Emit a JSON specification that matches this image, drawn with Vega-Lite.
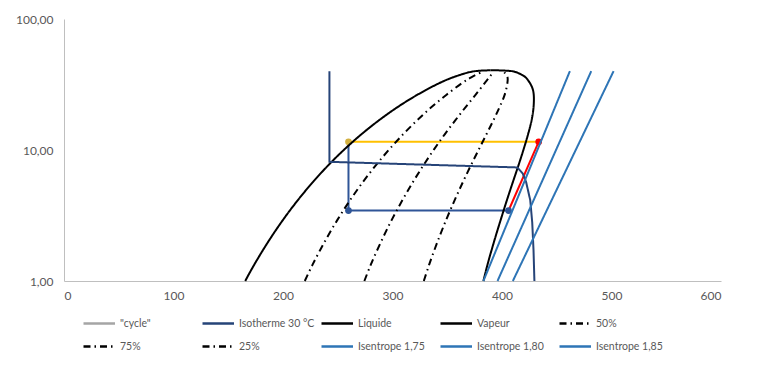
{
  "$schema": "https://vega.github.io/schema/vega-lite/v6.json",
  "width": 657,
  "height": 262,
  "autosize": "none",
  "padding": {"left": 64, "top": 19, "right": 37, "bottom": 96},
  "background": "white",
  "config": {
    "font": "Lato",
    "view": {"stroke": null},
    "axis": {"grid": false, "ticks": false, "domainColor": "#BFBFBF", "domainWidth": 1, "labelColor": "#595959", "labelFontSize": 12, "title": null}
  },
  "datasets": {
    "smooth": [
      {"s": "Liquide", "i": 1, "h": 165.5, "p": 1.0},
      {"s": "Liquide", "i": 2, "h": 173.6, "p": 1.327},
      {"s": "Liquide", "i": 3, "h": 186.7, "p": 2.006},
      {"s": "Liquide", "i": 4, "h": 200.0, "p": 2.928},
      {"s": "Liquide", "i": 5, "h": 213.6, "p": 4.146},
      {"s": "Liquide", "i": 6, "h": 227.5, "p": 5.717},
      {"s": "Liquide", "i": 7, "h": 241.7, "p": 7.702},
      {"s": "Liquide", "i": 8, "h": 256.4, "p": 10.166},
      {"s": "Liquide", "i": 9, "h": 271.6, "p": 13.18},
      {"s": "Liquide", "i": 10, "h": 287.5, "p": 16.82},
      {"s": "Liquide", "i": 11, "h": 304.3, "p": 21.17},
      {"s": "Liquide", "i": 12, "h": 322.5, "p": 26.33},
      {"s": "Liquide", "i": 13, "h": 342.9, "p": 32.44},
      {"s": "Liquide", "i": 14, "h": 355.4, "p": 35.9},
      {"s": "Liquide", "i": 15, "h": 373.1, "p": 39.72},
      {"s": "Liquide", "i": 16, "h": 389.6, "p": 40.59},
      {"s": "Vapeur", "i": 1, "h": 389.6, "p": 40.59},
      {"s": "Vapeur", "i": 2, "h": 411.0, "p": 39.72},
      {"s": "Vapeur", "i": 3, "h": 418.2, "p": 37.4},
      {"s": "Vapeur", "i": 4, "h": 421.5, "p": 35.9},
      {"s": "Vapeur", "i": 5, "h": 425.5, "p": 32.44},
      {"s": "Vapeur", "i": 6, "h": 428.0, "p": 29.28},
      {"s": "Vapeur", "i": 7, "h": 429.0, "p": 26.33},
      {"s": "Vapeur", "i": 8, "h": 428.8, "p": 21.17},
      {"s": "Vapeur", "i": 9, "h": 427.0, "p": 16.82},
      {"s": "Vapeur", "i": 10, "h": 423.8, "p": 13.18},
      {"s": "Vapeur", "i": 11, "h": 419.8, "p": 10.166},
      {"s": "Vapeur", "i": 12, "h": 415.2, "p": 7.702},
      {"s": "Vapeur", "i": 13, "h": 410.0, "p": 5.717},
      {"s": "Vapeur", "i": 14, "h": 404.5, "p": 4.146},
      {"s": "Vapeur", "i": 15, "h": 398.8, "p": 2.928},
      {"s": "Vapeur", "i": 16, "h": 392.8, "p": 2.006},
      {"s": "Vapeur", "i": 17, "h": 386.7, "p": 1.327},
      {"s": "Vapeur", "i": 18, "h": 383.0, "p": 1.0},
      {"s": "25%", "i": 1, "h": 219.9, "p": 1.0},
      {"s": "25%", "i": 2, "h": 226.9, "p": 1.327},
      {"s": "25%", "i": 3, "h": 238.2, "p": 2.006},
      {"s": "25%", "i": 4, "h": 249.7, "p": 2.928},
      {"s": "25%", "i": 5, "h": 261.3, "p": 4.146},
      {"s": "25%", "i": 6, "h": 273.1, "p": 5.717},
      {"s": "25%", "i": 7, "h": 285.1, "p": 7.702},
      {"s": "25%", "i": 8, "h": 297.3, "p": 10.166},
      {"s": "25%", "i": 9, "h": 309.7, "p": 13.18},
      {"s": "25%", "i": 10, "h": 322.4, "p": 16.82},
      {"s": "25%", "i": 11, "h": 335.4, "p": 21.17},
      {"s": "25%", "i": 12, "h": 349.1, "p": 26.33},
      {"s": "25%", "i": 13, "h": 363.6, "p": 32.44},
      {"s": "25%", "i": 14, "h": 371.9, "p": 35.9},
      {"s": "25%", "i": 15, "h": 382.6, "p": 39.72},
      {"s": "50%", "i": 1, "h": 274.3, "p": 1.0},
      {"s": "50%", "i": 2, "h": 280.1, "p": 1.327},
      {"s": "50%", "i": 3, "h": 289.7, "p": 2.006},
      {"s": "50%", "i": 4, "h": 299.3, "p": 2.928},
      {"s": "50%", "i": 5, "h": 309.1, "p": 4.146},
      {"s": "50%", "i": 6, "h": 318.8, "p": 5.717},
      {"s": "50%", "i": 7, "h": 328.5, "p": 7.702},
      {"s": "50%", "i": 8, "h": 338.1, "p": 10.166},
      {"s": "50%", "i": 9, "h": 347.7, "p": 13.18},
      {"s": "50%", "i": 10, "h": 357.3, "p": 16.82},
      {"s": "50%", "i": 11, "h": 366.6, "p": 21.17},
      {"s": "50%", "i": 12, "h": 375.8, "p": 26.33},
      {"s": "50%", "i": 13, "h": 384.2, "p": 32.44},
      {"s": "50%", "i": 14, "h": 388.5, "p": 35.9},
      {"s": "50%", "i": 15, "h": 392.1, "p": 39.72},
      {"s": "75%", "i": 1, "h": 328.6, "p": 1.0},
      {"s": "75%", "i": 2, "h": 333.4, "p": 1.327},
      {"s": "75%", "i": 3, "h": 341.2, "p": 2.006},
      {"s": "75%", "i": 4, "h": 349.0, "p": 2.928},
      {"s": "75%", "i": 5, "h": 356.8, "p": 4.146},
      {"s": "75%", "i": 6, "h": 364.4, "p": 5.717},
      {"s": "75%", "i": 7, "h": 371.8, "p": 7.702},
      {"s": "75%", "i": 8, "h": 379.0, "p": 10.166},
      {"s": "75%", "i": 9, "h": 385.8, "p": 13.18},
      {"s": "75%", "i": 10, "h": 392.1, "p": 16.82},
      {"s": "75%", "i": 11, "h": 397.7, "p": 21.17},
      {"s": "75%", "i": 12, "h": 402.4, "p": 26.33},
      {"s": "75%", "i": 13, "h": 404.9, "p": 32.44},
      {"s": "75%", "i": 14, "h": 405.0, "p": 35.9},
      {"s": "75%", "i": 15, "h": 401.5, "p": 39.72}
    ],
    "straight": [
      {"s": "Isotherme 30 °C", "i": 1, "h": 242.4, "p": 40},
      {"s": "Isotherme 30 °C", "i": 2, "h": 242.4, "p": 8.12},
      {"s": "Isotherme 30 °C", "i": 3, "h": 414.0, "p": 7.36},
      {"s": "Isotherme 30 °C", "i": 4, "h": 419.0, "p": 6.6},
      {"s": "Isotherme 30 °C", "i": 5, "h": 422.0, "p": 5.7},
      {"s": "Isotherme 30 °C", "i": 6, "h": 425.8, "p": 4.14},
      {"s": "Isotherme 30 °C", "i": 7, "h": 427.6, "p": 2.8},
      {"s": "Isotherme 30 °C", "i": 8, "h": 428.8, "p": 1.71},
      {"s": "Isotherme 30 °C", "i": 9, "h": 429.6, "p": 1.0},
      {"s": "Isentrope 1,75", "i": 1, "h": 383.0, "p": 1.0},
      {"s": "Isentrope 1,75", "i": 2, "h": 462.0, "p": 40},
      {"s": "Isentrope 1,80", "i": 1, "h": 395.9, "p": 1.0},
      {"s": "Isentrope 1,80", "i": 2, "h": 481.5, "p": 40},
      {"s": "Isentrope 1,85", "i": 1, "h": 409.9, "p": 1.0},
      {"s": "Isentrope 1,85", "i": 2, "h": 501.9, "p": 40}
    ],
    "cycle": [
      {"seg": "condensation", "i": 1, "h": 259.8, "p": 11.55},
      {"seg": "condensation", "i": 2, "h": 433.5, "p": 11.55},
      {"seg": "compression", "i": 1, "h": 406.0, "p": 3.45},
      {"seg": "compression", "i": 2, "h": 433.5, "p": 11.55},
      {"seg": "evaporation", "i": 1, "h": 259.8, "p": 3.45},
      {"seg": "evaporation", "i": 2, "h": 406.0, "p": 3.45},
      {"seg": "detente", "i": 1, "h": 259.8, "p": 11.55},
      {"seg": "detente", "i": 2, "h": 259.8, "p": 3.45}
    ],
    "points": [
      {"pt": "1", "h": 433.5, "p": 11.55},
      {"pt": "3", "h": 259.8, "p": 11.55},
      {"pt": "4", "h": 259.8, "p": 3.45},
      {"pt": "2", "h": 406.0, "p": 3.45}
    ]
  },
  "layer": [
    {
      "data": {"name": "cycle"},
      "mark": {"type": "line", "strokeWidth": 2},
      "encoding": {
        "x": {"field": "h", "type": "quantitative", "scale": {"domain": [0, 600], "nice": false}, "axis": {"values": [0, 100, 200, 300, 400, 500, 600], "labelPadding": 9, "format": "d"}},
        "y": {"field": "p", "type": "quantitative", "scale": {"type": "log", "domain": [1, 100], "nice": false}, "axis": {"values": [1, 10, 100], "labelPadding": 11, "labelExpr": "replace(format(datum.value, '.2f'), '.', ',')"}},
        "detail": {"field": "seg"},
        "order": {"field": "i", "type": "quantitative"},
        "stroke": {"field": "seg", "type": "nominal", "legend": null, "scale": {"domain": ["condensation", "compression", "evaporation", "detente"], "range": ["#FFC000", "#FF0000", "#2F5597", "#2F5597"]}}
      }
    },
    {
      "data": {"name": "points"},
      "mark": {"type": "point", "filled": true, "size": 45, "opacity": 1},
      "encoding": {
        "x": {"field": "h", "type": "quantitative"},
        "y": {"field": "p", "type": "quantitative"},
        "fill": {"field": "pt", "type": "nominal", "legend": null, "scale": {"domain": ["1", "2", "3", "4"], "range": ["#FF0000", "#2F5597", "#D2B040", "#2F5597"]}}
      }
    },
    {
      "data": {"name": "smooth"},
      "mark": {"type": "line", "strokeWidth": 2, "interpolate": "catmull-rom"},
      "encoding": {
        "x": {"field": "h", "type": "quantitative"},
        "y": {"field": "p", "type": "quantitative"},
        "order": {"field": "i", "type": "quantitative"},
        "color": {"field": "s", "type": "nominal",
          "scale": {"domain": ["\"cycle\"", "75%", "Isotherme 30 °C", "25%", "Liquide", "Isentrope 1,75", "Vapeur", "Isentrope 1,80", "50%", "Isentrope 1,85"],
                    "range": ["#A5A5A5", "#000000", "#264478", "#000000", "#000000", "#2E75B6", "#000000", "#2E75B6", "#000000", "#2E75B6"]},
          "legend": {"title": null, "orient": "none", "legendX": 18, "legendY": 296, "columns": 5, "symbolType": "M-1,0H3.5", "symbolSize": 196, "symbolStrokeWidth": 2.5, "labelFontSize": 10.5, "labelColor": "#595959", "labelOffset": 21, "rowPadding": 9, "columnPadding": 1, "gridAlign": "all", "labelLimit": 200}},
        "strokeDash": {"field": "s", "type": "nominal",
          "scale": {"domain": ["\"cycle\"", "75%", "Isotherme 30 °C", "25%", "Liquide", "Isentrope 1,75", "Vapeur", "Isentrope 1,80", "50%", "Isentrope 1,85"],
                    "range": [[1, 0], [7, 4, 1.5, 4], [1, 0], [7, 4, 1.5, 4], [1, 0], [1, 0], [1, 0], [1, 0], [7, 4, 1.5, 4], [1, 0]]},
          "legend": {"title": null, "orient": "none", "legendX": 18, "legendY": 296, "columns": 5, "symbolType": "M-1,0H3.5", "symbolSize": 196, "symbolStrokeWidth": 2.5, "labelFontSize": 10.5, "labelColor": "#595959", "labelOffset": 21, "rowPadding": 9, "columnPadding": 1, "gridAlign": "all", "labelLimit": 200}}
      }
    },
    {
      "data": {"name": "straight"},
      "mark": {"type": "line", "strokeWidth": 2},
      "encoding": {
        "x": {"field": "h", "type": "quantitative"},
        "y": {"field": "p", "type": "quantitative"},
        "order": {"field": "i", "type": "quantitative"},
        "color": {"field": "s", "type": "nominal"},
        "strokeDash": {"field": "s", "type": "nominal"}
      }
    }
  ]
}
